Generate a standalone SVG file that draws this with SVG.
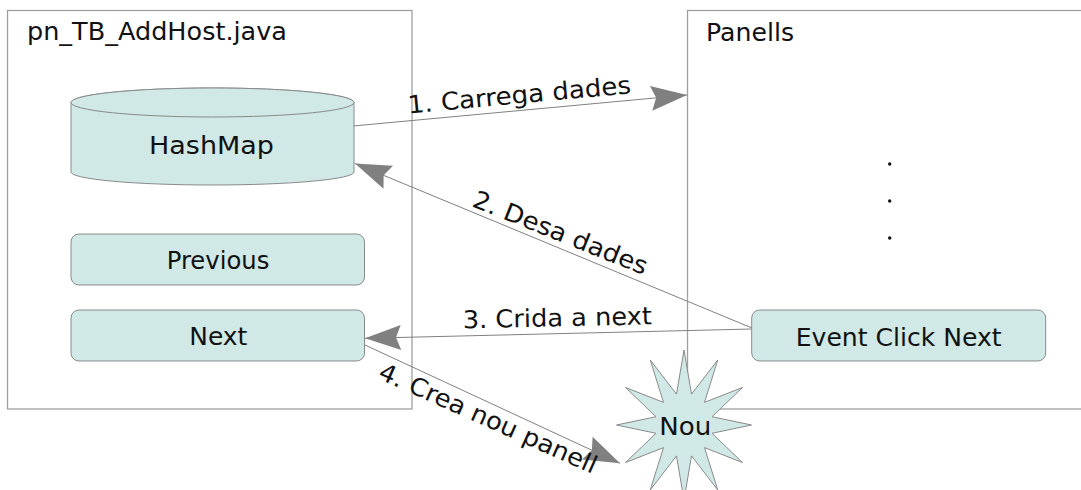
<svg xmlns="http://www.w3.org/2000/svg" width="1081" height="490" viewBox="0 0 1081 490">
  <style>
    .frame { fill: #ffffff; stroke: #a0a0a0; stroke-width: 1.3; }
    .shape { fill: #d0e8e6; stroke: #8a8a8a; stroke-width: 1; }
    .conn { fill: none; stroke: #808080; stroke-width: 1; }
    .txt { font-family: "DejaVu Sans", "Liberation Sans", sans-serif; font-size: 24.5px; fill: #111111; }
  </style>
  <defs>
    <marker id="arrow" markerUnits="userSpaceOnUse" markerWidth="38" markerHeight="28" viewBox="-37 -14 38 28" refX="0" refY="0" orient="auto">
      <path d="M0,0 L-36,-12.5 L-31,0 L-36,12.5 Z" fill="#808080"/>
    </marker>
  </defs>

  <rect width="1081" height="490" fill="#ffffff"/>

  <!-- containers -->
  <g id="frame-addhost">
    <rect class="frame" x="7.5" y="10.5" width="404.5" height="398.5"/>
    <text class="txt" x="27" y="40" textLength="260" lengthAdjust="spacingAndGlyphs">pn_TB_AddHost.java</text>
  </g>
  <g id="frame-panells">
    <rect class="frame" x="687.5" y="10.5" width="420" height="398.5"/>
    <text class="txt" x="706" y="40.5" textLength="88" lengthAdjust="spacingAndGlyphs">Panells</text>
    <circle cx="889.7" cy="164" r="1.7" fill="#111111"/>
    <circle cx="889.7" cy="201" r="1.7" fill="#111111"/>
    <circle cx="889.7" cy="238" r="1.7" fill="#111111"/>
  </g>

  <!-- connectors -->
  <g id="connectors">
    <line class="conn" x1="353" y1="126" x2="687" y2="95" marker-end="url(#arrow)"/>
    <line class="conn" x1="752" y1="328" x2="355" y2="163.5" marker-end="url(#arrow)"/>
    <line class="conn" x1="752" y1="329" x2="365" y2="338.3" marker-end="url(#arrow)"/>
    <line class="conn" x1="365" y1="345" x2="620" y2="463.3" marker-end="url(#arrow)"/>
  </g>

  <!-- nodes -->
  <g id="hashmap">
    <path class="shape" d="M71,102.5 L71,172 A141.5,13 0 0 0 354,172 L354,102.5 A141.5,14.5 0 0 0 71,102.5 Z"/>
    <ellipse class="shape" cx="212.5" cy="102.5" rx="141.5" ry="14.5"/>
    <text class="txt" x="149" y="154" textLength="125" lengthAdjust="spacingAndGlyphs">HashMap</text>
  </g>
  <g id="previous">
    <rect class="shape" x="71" y="234" width="293.5" height="51" rx="8"/>
    <text class="txt" x="166.7" y="269.3" textLength="102.6" lengthAdjust="spacingAndGlyphs">Previous</text>
  </g>
  <g id="next">
    <rect class="shape" x="71" y="310" width="293.5" height="51" rx="8"/>
    <text class="txt" x="189.3" y="345" textLength="58" lengthAdjust="spacingAndGlyphs">Next</text>
  </g>
  <g id="event-click-next">
    <rect class="shape" x="751.7" y="310" width="294" height="51" rx="8"/>
    <text class="txt" x="795.7" y="345.7" textLength="206" lengthAdjust="spacingAndGlyphs">Event Click Next</text>
  </g>
  <g id="nou">
    <polygon class="shape" points="684,350 691.51,394.09 717.75,360.05 704.51,402.37 742.46,387.5 712.01,416.72 751.5,425 712.01,433.28 742.46,462.5 704.51,447.63 717.75,489.95 691.51,455.91 684,500 676.49,455.91 650.25,489.95 663.49,447.63 625.54,462.5 655.99,433.28 616.5,425 655.99,416.72 625.54,387.5 663.49,402.37 650.25,360.05 676.49,394.09"/>
    <text class="txt" x="659.3" y="434.5" textLength="52" lengthAdjust="spacingAndGlyphs">Nou</text>
  </g>

  <!-- connector labels -->
  <g id="labels">
    <text class="txt" transform="translate(408.5,113.5) rotate(-5.2)" textLength="224" lengthAdjust="spacingAndGlyphs">1. Carrega dades</text>
    <text class="txt" transform="translate(471,206) rotate(21.8)" textLength="186" lengthAdjust="spacingAndGlyphs">2. Desa dades</text>
    <text class="txt" transform="translate(463,328.3) rotate(-1.2)" textLength="189" lengthAdjust="spacingAndGlyphs">3. Crida a next</text>
    <text class="txt" transform="translate(377,378) rotate(24)" textLength="236" lengthAdjust="spacingAndGlyphs">4. Crea nou panell</text>
  </g>
</svg>
